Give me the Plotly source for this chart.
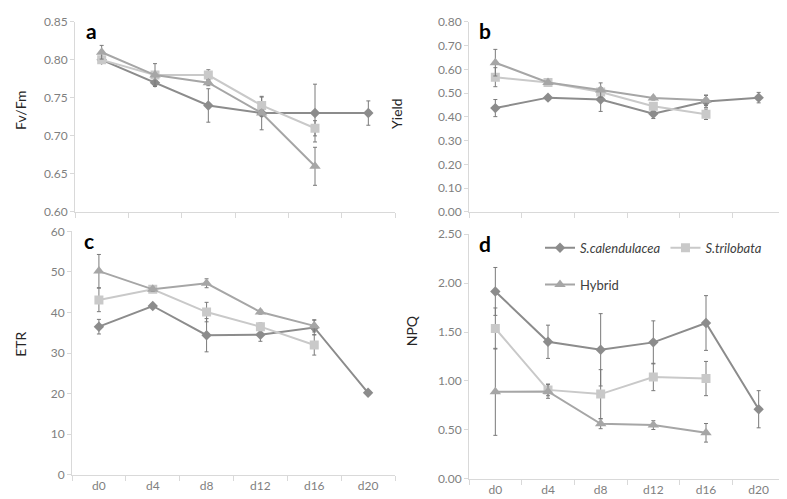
import plotly.graph_objects as go

days = ["d0", "d4", "d8", "d12", "d16", "d20"]
days_tri = ["d0", "d4", "d8", "d12", "d16"]

# Panel a: Fv/Fm
fvfm_cal = [0.80, 0.77, 0.74, 0.73, 0.73, 0.73]
fvfm_cal_err = [0.003, 0.004, 0.022, 0.022, 0.038, 0.016]
fvfm_tri = [0.80, 0.78, 0.78, 0.74, 0.71]
fvfm_tri_err = [0.004, 0.004, 0.007, 0.011, 0.010]
fvfm_hyb = [0.81, 0.78, 0.77, 0.73, 0.66]
fvfm_hyb_err = [0.009, 0.015, 0.004, 0.004, 0.025]

# Panel b: Yield
yield_cal = [0.437, 0.481, 0.473, 0.413, 0.465, 0.481]
yield_cal_err = [0.036, 0.008, 0.050, 0.020, 0.025, 0.022]
yield_tri = [0.567, 0.545, 0.505, 0.445, 0.411]
yield_tri_err = [0.040, 0.008, 0.018, 0.010, 0.022]
yield_hyb = [0.628, 0.545, 0.513, 0.479, 0.470]
yield_hyb_err = [0.056, 0.008, 0.030, 0.008, 0.022]

# Panel c: ETR
etr_cal = [36.5, 41.6, 34.4, 34.5, 36.3, 20.2]
etr_cal_err = [1.8, 0.5, 4.1, 1.6, 1.8, 0.6]
etr_tri = [43.1, 45.7, 40.1, 36.5, 32.0]
etr_tri_err = [2.9, 0.5, 2.4, 0.9, 2.5]
etr_hyb = [50.2, 45.7, 47.2, 40.1, 36.7]
etr_hyb_err = [4.1, 0.5, 1.1, 0.5, 1.5]

# Panel d: NPQ
npq_cal = [1.915, 1.40, 1.318, 1.394, 1.592, 0.71]
npq_cal_err = [0.245, 0.17, 0.37, 0.22, 0.28, 0.19]
npq_tri = [1.536, 0.908, 0.865, 1.04, 1.024]
npq_tri_err = [0.21, 0.06, 0.25, 0.14, 0.175]
npq_hyb = [0.888, 0.892, 0.561, 0.548, 0.469]
npq_hyb_err = [0.445, 0.07, 0.05, 0.045, 0.095]

names = ["<i>S.calendulacea</i>", "<i>S.trilobata</i>", "Hybrid"]
colors = ["#8c8c8c", "#c9c9c9", "#a6a6a6"]
symbols = ["diamond", "square", "triangle-up"]
msizes = [8, 9, 10]

FONT = "Lato"
TICKC = "#7f7f7f"
AXC = "#d9d9d9"
ERRC = "#7a7a7a"

panels = [
    ("x", "y", (fvfm_cal, fvfm_cal_err), (fvfm_tri, fvfm_tri_err), (fvfm_hyb, fvfm_hyb_err)),
    ("x2", "y2", (yield_cal, yield_cal_err), (yield_tri, yield_tri_err), (yield_hyb, yield_hyb_err)),
    ("x3", "y3", (etr_cal, etr_cal_err), (etr_tri, etr_tri_err), (etr_hyb, etr_hyb_err)),
    ("x4", "y4", (npq_cal, npq_cal_err), (npq_tri, npq_tri_err), (npq_hyb, npq_hyb_err)),
]

fig = go.Figure()
for pi, (xa, ya, cal, tri, hyb) in enumerate(panels):
    for si, (vals, errs) in enumerate([cal, tri, hyb]):
        xs = days if si == 0 else days_tri
        legend_kw = {}
        show = pi == 3
        if si == 2:
            legend_kw["legend"] = "legend2"
        fig.add_trace(go.Scatter(
            x=xs, y=vals, xaxis=xa, yaxis=ya,
            mode="lines+markers", name=names[si],
            showlegend=show,
            line=dict(color=colors[si], width=2),
            marker=dict(symbol=symbols[si], size=msizes[si], color=colors[si]),
            error_y=dict(type="data", array=errs, visible=True,
                         color=ERRC, thickness=1, width=2),
            **legend_kw,
        ))

W, H = 787, 499
def px_x(a, b):
    return [a / W, b / W]
def px_y(top, bottom):
    return [1 - bottom / H, 1 - top / H]

tickfont = dict(family=FONT, size=12, color=TICKC)
xcommon = dict(type="category", categoryorder="array", categoryarray=days,
               range=[-0.5, 5.5], showline=True, linecolor=AXC, linewidth=1,
               ticks="outside", tickson="boundaries", ticklen=5, tickcolor=AXC,
               showgrid=False, zeroline=False, tickfont=tickfont, fixedrange=True)
ycommon = dict(showline=True, linecolor=AXC, linewidth=1, ticks="outside",
               ticklen=4, tickcolor=AXC, showgrid=False, zeroline=False,
               tickfont=tickfont, fixedrange=True)

legfont = dict(family=FONT, size=13, color="#404040")
fig.update_layout(
    width=W, height=H,
    margin=dict(l=0, r=0, t=0, b=0),
    paper_bgcolor="white", plot_bgcolor="white",
    font=dict(family=FONT, size=12, color="#404040"),
    xaxis=dict(domain=px_x(67, 387), anchor="y", showticklabels=False, **xcommon),
    xaxis2=dict(domain=px_x(461, 777), anchor="y2", showticklabels=False, **xcommon),
    xaxis3=dict(domain=px_x(64, 387), anchor="y3", showticklabels=True, **xcommon),
    xaxis4=dict(domain=px_x(461, 777), anchor="y4", showticklabels=True, **xcommon),
    yaxis=dict(domain=px_y(6, 202), anchor="x", range=[0.60, 0.85], dtick=0.05,
               tickformat=".2f", **ycommon),
    yaxis2=dict(domain=px_y(6, 202), anchor="x2", range=[0, 0.80], dtick=0.1,
                tickformat=".2f", **ycommon),
    yaxis3=dict(domain=px_y(222, 473), anchor="x3", range=[0, 60], dtick=10,
                **ycommon),
    yaxis4=dict(domain=px_y(225, 477), anchor="x4", range=[0, 2.5], dtick=0.5,
                tickformat=".2f", **ycommon),
    legend=dict(orientation="h", x=532 / W, y=1 - 239 / H, xanchor="left",
                yanchor="middle", bgcolor="rgba(0,0,0,0)", font=legfont,
                itemclick=False, itemdoubleclick=False),
    legend2=dict(orientation="h", x=532 / W, y=1 - 277 / H, xanchor="left",
                 yanchor="middle", bgcolor="rgba(0,0,0,0)", font=legfont,
                 itemclick=False, itemdoubleclick=False),
)

annots = []
# axis titles
for text, cx, cy in [("Fv/Fm", 12, 97), ("Yield", 389, 101), ("ETR", 13, 339), ("NPQ", 403, 325)]:
    annots.append(dict(text=text, x=cx / W, y=1 - cy / H, xref="paper", yref="paper",
                       xanchor="center", yanchor="middle", textangle=-90, showarrow=False,
                       font=dict(family=FONT, size=14, color="#262626")))
# panel letters
for text, cx, cy in [("a", 83, 15), ("b", 477, 15), ("c", 81, 231), ("d", 477, 235)]:
    annots.append(dict(text="<b>" + text + "</b>", x=cx / W, y=1 - cy / H,
                       xref="paper", yref="paper",
                       xanchor="center", yanchor="middle", showarrow=False,
                       font=dict(family=FONT, size=21, color="black")))
fig.update_layout(annotations=annots)

fig.write_html("out.html")
